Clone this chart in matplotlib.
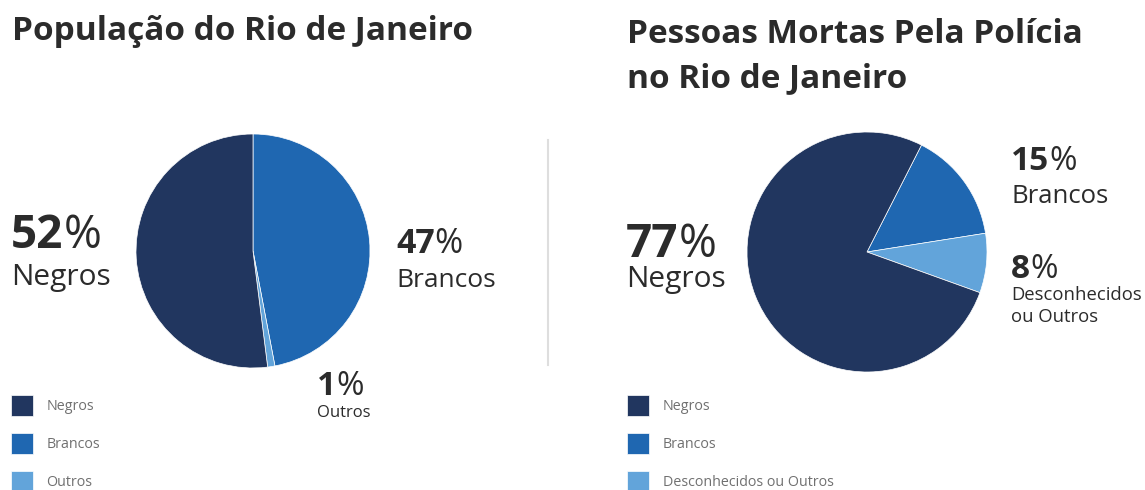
import matplotlib
matplotlib.use("Agg")
import matplotlib.pyplot as plt
from matplotlib.lines import Line2D

W, H = 1145, 490
DPI = 100

plt.rcParams['font.family'] = ['Open Sans', 'DejaVu Sans']

# Population of Rio de Janeiro
pop_labels = ["Negros", "Brancos", "Outros"]
pop_values = [52, 47, 1]
pop_title = ["População do Rio de Janeiro"]

# People killed by the police in Rio de Janeiro
kill_labels = ["Negros", "Brancos", "Desconhecidos ou Outros"]
kill_values = [77, 15, 8]
kill_title = ["Pessoas Mortas Pela Polícia", "no Rio de Janeiro"]

colors = ["#21365f", "#1f67b1", "#62a4da"]
TEXT = "#2b2b2b"
GREY = "#707070"

fig = plt.figure(figsize=(W / DPI, H / DPI), dpi=DPI)
fig.patch.set_facecolor("white")


def fx(px):
    return px / W


def fy(py):
    return 1 - py / H


def pie_axes(cx, cy, r):
    return fig.add_axes([fx(cx - r), fy(cy + r), 2 * r / W, 2 * r / H])


def draw_pie(ax, values, order, start):
    vals = [values[i] for i in order]
    cols = [colors[i] for i in order]
    wedges, _ = ax.pie(vals, colors=cols, startangle=start, counterclock=False,
                       radius=1, wedgeprops=dict(edgecolor="white", linewidth=0.5))
    ax.set_xlim(-1, 1)
    ax.set_ylim(-1, 1)
    ax.set_aspect("auto")
    ax.axis("off")
    # hand the wedges back in legend order
    out = [None] * len(values)
    for w, i in zip(wedges, order):
        out[i] = w
    return out


renderer = fig.canvas.get_renderer()


def pct_label(x, y, value, size):
    t = fig.text(fx(x), fy(y), f"{value}", fontsize=size, fontweight="bold",
                 color=TEXT, va="baseline", ha="left")
    bb = t.get_window_extent(renderer=renderer)
    fig.text(bb.x1 / W, fy(y), "%", fontsize=size, fontweight="normal",
             color=TEXT, va="baseline", ha="left")


def name_label(x, y, text, size):
    fig.text(fx(x), fy(y), text, fontsize=size, color=TEXT, va="baseline", ha="left")


LEG_FS = 10.3


def legend(ax, wedges, labels, x, y):
    ax.legend(wedges, labels, loc="upper left",
              bbox_to_anchor=(fx(x), fy(y)), bbox_transform=fig.transFigure,
              frameon=False, fontsize=LEG_FS, labelcolor=GREY,
              handlelength=1.54, handleheight=1.88, handletextpad=0.95,
              labelspacing=1.2, borderpad=0, borderaxespad=0)


# titles
for i, line in enumerate(pop_title):
    fig.text(fx(12), fy(40 + 44 * i), line, fontsize=24, fontweight="bold",
             color=TEXT, va="baseline", ha="left")
for i, line in enumerate(kill_title):
    fig.text(fx(627), fy(43 + 44 * i), line, fontsize=24, fontweight="bold",
             color=TEXT, va="baseline", ha="left")

# left pie: Brancos, Outros, Negros clockwise from 12 o'clock
ax1 = pie_axes(253, 251, 117)
w1 = draw_pie(ax1, pop_values, [1, 2, 0], 90)
legend(ax1, w1, pop_labels, 11, 395)

# right pie
ax2 = pie_axes(867, 252, 120)
w2 = draw_pie(ax2, kill_values, [1, 2, 0], 63)
legend(ax2, w2, kill_labels, 627, 395)

# separator
fig.add_artist(Line2D([fx(548), fx(548)], [fy(140), fy(365)],
                      color="#dedede", linewidth=1.5))

# left labels
pct_label(11, 248, pop_values[0], 33)
name_label(11, 285, pop_labels[0], 21.5)
pct_label(396, 253, pop_values[1], 24.5)
name_label(396, 287, pop_labels[1], 19)
pct_label(317, 395, pop_values[2], 24)
name_label(317, 417, pop_labels[2], 12)

# right labels
pct_label(626, 257, kill_values[0], 33)
name_label(626, 287, kill_labels[0], 21.5)
pct_label(1011, 170, kill_values[1], 24)
name_label(1011, 203, kill_labels[1], 18.5)
pct_label(1011, 278, kill_values[2], 24)
name_label(1011, 300, "Desconhecidos", 13.3)
name_label(1011, 322, "ou Outros", 13.3)

fig.savefig("out.png", dpi=DPI, facecolor="white")
